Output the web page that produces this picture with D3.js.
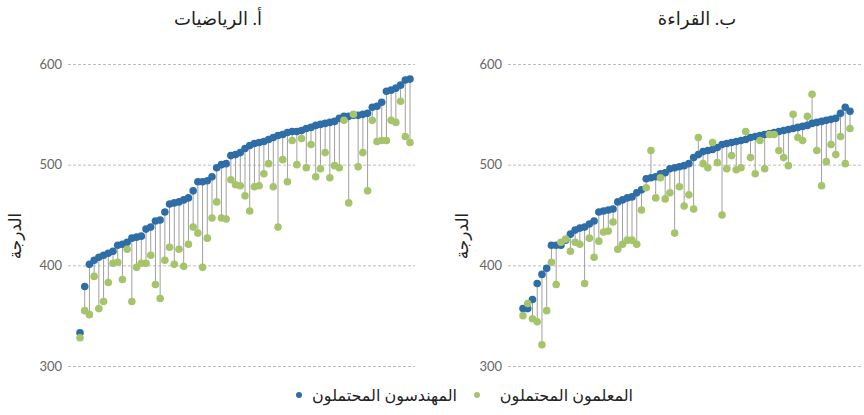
<!DOCTYPE html>
<html><head><meta charset="utf-8">
<script src="https://cdn.jsdelivr.net/npm/d3@7"></script>
<style>
body{margin:0;background:#fff;}
svg{display:block;}
</style></head>
<body>
<svg id="c" width="864" height="415"></svg>
<script>
// Data
const panelTitles = ["أ. الرياضيات", "ب. القراءة"];
const yTicks = [300, 400, 500, 600];
const yLabel = "الدرجة";
const legendLabels = ["المهندسون المحتملون", "المعلمون المحتملون"];

const mathEngineers = [333,379,401,405,408,410,412,414,420,421,423,427,428,429,436,438,444,445,453,461,462,463,465,467,474,483,483,484,488,497,500,501,509,510,512,
  516,519,521,522,523,525,527,529,530,532,533,533,534,536,537,539,540,541,542,543,546,548,548,549,549,550,551,557,558,562,573,574,576,579,584,585];
const mathTeachers = [328,355,351,389,357,364,383,402,403,386,416,364,398,402,402,410,381,367,405,418,401,416,399,421,438,432,398,427,447,463,447,446,485,480,479,
  469,454,478,479,491,501,478,438,505,483,524,500,526,497,520,488,496,512,487,499,497,544,462,550,498,512,474,544,523,524,524,544,542,563,528,522];

const readEngineers = [357,357,366,382,391,397,420,420,420,425,431,435,437,438,441,444,453,454,455,456,463,465,467,468,472,475,486,487,488,491,492,
  496,497,498,499,501,507,510,513,514,515,517,520,521,522,523,524,525,527,528,529,530,531,532,533,534,535,536,537,538,539,541,542,543,544,545,546,551,557,553];
const readTeachers = [350,362,347,344,321,355,403,381,423,426,414,423,421,382,427,408,424,433,434,443,416,421,425,425,421,455,477,514,467,487,466,
  472,432,478,459,470,456,527,501,497,522,502,450,496,509,495,497,533,507,491,524,496,530,530,514,507,499,550,527,524,548,570,514,479,503,520,510,528,501,536];

const blue = "#2f6da6", green = "#a6c46a", stem = "#a0a0a0";
const arabicFont = "'Times New Roman', 'DejaVu Sans', serif";
const svg = d3.select("#c");

const y = d3.scaleLinear().domain([300, 600]).range([366, 64]);

const panels = [
  {title: panelTitles[0], eng: mathEngineers, tch: mathTeachers, gx0: 68, gx1: 415, px0: 80, px1: 410, tx: 218, lx: 15},
  {title: panelTitles[1], eng: readEngineers, tch: readTeachers, gx0: 508, gx1: 862, px0: 523, px1: 850, tx: 697, lx: 462}
];

panels.forEach(p => {
  const g = svg.append("g");
  const axis = d3.axisLeft(y).tickValues(yTicks).tickSize(-(p.gx1 - p.gx0)).tickPadding(6).tickFormat(d3.format("d"));
  const ax = g.append("g").attr("transform", `translate(${p.gx0},0)`).call(axis);
  ax.select(".domain").remove();
  ax.selectAll(".tick line").attr("stroke", "#bdbdbd").attr("stroke-dasharray", "3,2").attr("stroke-width", 1);
  ax.selectAll(".tick text").attr("fill", "#666").style("font-family", "Lato, 'Open Sans', sans-serif").style("font-size", "13px");

  const idx = d3.range(p.eng.length);
  const x = d3.scalePoint().domain(idx).range([p.px0, p.px1]);

  g.append("g").selectAll("line").data(idx).join("line")
    .attr("x1", i => x(i)).attr("x2", i => x(i))
    .attr("y1", i => y(p.eng[i])).attr("y2", i => y(p.tch[i]))
    .attr("stroke", stem).attr("stroke-width", 1);
  g.append("g").selectAll("circle").data(idx).join("circle")
    .attr("cx", i => x(i)).attr("cy", i => y(p.eng[i])).attr("r", 3.8).attr("fill", blue);
  g.append("g").selectAll("circle").data(idx).join("circle")
    .attr("cx", i => x(i)).attr("cy", i => y(p.tch[i])).attr("r", 3.8).attr("fill", green);

  g.append("text").attr("x", p.tx).attr("y", 25).attr("text-anchor", "middle")
    .style("font-family", arabicFont).style("font-size", "18px").attr("fill", "#222")
    .attr("direction", "rtl").text(p.title);
  g.append("text").attr("transform", `translate(${p.lx},236) rotate(-90)`).attr("text-anchor", "middle")
    .attr("dy", "0.35em")
    .style("font-family", arabicFont).style("font-size", "17px").attr("fill", "#222")
    .text(yLabel);
});

// legend
const leg = svg.append("g");
const items = [
  {label: legendLabels[0], color: blue, dot: 299, textRight: 457},
  {label: legendLabels[1], color: green, dot: 477, textRight: 633}
];
items.forEach(it => {
  leg.append("circle").attr("cx", it.dot).attr("cy", 395).attr("r", 3).attr("fill", it.color);
  leg.append("text").attr("x", it.textRight).attr("y", 401).attr("text-anchor", "start").attr("direction", "rtl")
    .style("font-family", arabicFont).style("font-size", "16px").attr("fill", "#222")
    .text(it.label);
});
</script>
</body></html>
